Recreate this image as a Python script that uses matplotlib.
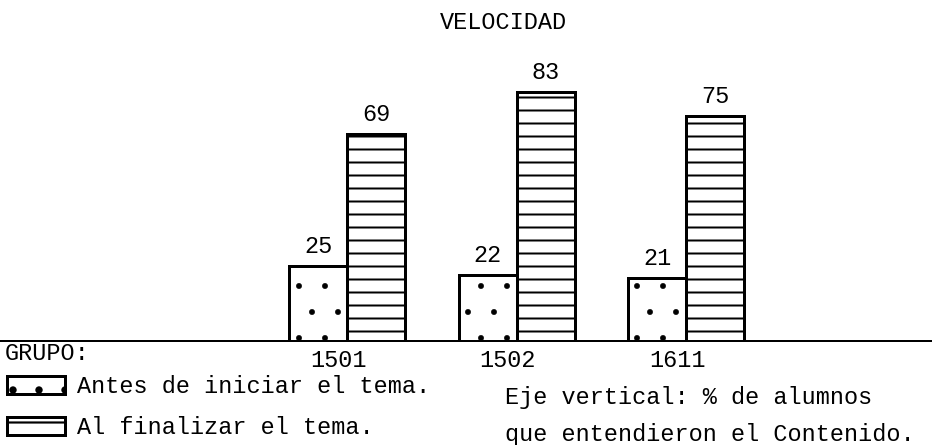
import matplotlib
matplotlib.use("Agg")
import matplotlib.pyplot as plt
import matplotlib.transforms as mtransforms
import numpy as np

# Data
grupos = ["1501", "1502", "1611"]
antes = [25, 22, 21]          # % before starting the topic
despues = [69, 83, 75]        # % after finishing the topic
etiqueta_antes = "Antes de iniciar el tema."
etiqueta_despues = "Al finalizar el tema."
titulo = "VELOCIDAD"
nota = ["Eje vertical: % de alumnos", "que entendieron el Contenido."]

W, H, DPI = 932, 445, 156
FS = 23.5 * 72 / DPI           # font size in points (~23.5 px em)
px = 72 / DPI                  # one pixel in points

plt.rcParams["font.family"] = ["Liberation Mono", "DejaVu Sans Mono"]
plt.rcParams["font.size"] = FS

fig = plt.figure(figsize=(W / DPI + 1e-4, H / DPI + 1e-4), dpi=DPI)
fig.patch.set_facecolor("white")

# Axes span the full width; baseline 341 px from the top, 3 px per percent
base_px = 341
ax = fig.add_axes([0, (H - base_px) / H, 1, 300 / H])
spacing = 169.5
x = np.arange(len(grupos))
ax.set_xlim(-347 / spacing, (W - 347) / spacing)
ax.set_ylim(0, 100)
w = 58 / spacing

edge_lw = 3 * px
with plt.rc_context({"hatch.linewidth": 0.6 * px, "hatch.color": "black"}):
    b1 = ax.bar(x - w / 2, antes, width=w, facecolor="white", edgecolor="black",
                linewidth=edge_lw, hatch=".", label=etiqueta_antes)
with plt.rc_context({"hatch.linewidth": 2.0 * px, "hatch.color": "black"}):
    b2 = ax.bar(x + w / 2, despues, width=w, facecolor="white", edgecolor="black",
                linewidth=edge_lw, hatch="--", label=etiqueta_despues)

ax.bar_label(b1, padding=8 * px, fontsize=FS)
ax.bar_label(b2, padding=8 * px, fontsize=FS)

# Baseline across the whole sheet
ax.axhline(0, color="black", linewidth=2 * px, clip_on=False)

for s in ax.spines.values():
    s.set_visible(False)
ax.set_yticks([])
ax.set_xticks(x)
ax.set_xticklabels(grupos)
ax.tick_params(axis="x", length=0, pad=8 * px)
shift = mtransforms.ScaledTranslation(-9 / DPI, 0, fig.dpi_scale_trans)
for lab in ax.get_xticklabels():
    lab.set_transform(lab.get_transform() + shift)
ax.patch.set_visible(False)

def fx(p):
    return p / W

def fy(p):
    return 1 - p / H

fig.text(fx(503), fy(22), titulo, ha="center", va="center")
fig.text(fx(5), fy(353), "GRUPO:", ha="left", va="center")

leg = fig.legend(handles=[b1, b2], loc="upper left",
                 bbox_to_anchor=(fx(7), fy(375)), bbox_transform=fig.transFigure,
                 frameon=False, borderpad=0, borderaxespad=0,
                 handlelength=58 / 23.5, handleheight=19 / 23.5,
                 handletextpad=12 / 23.5, labelspacing=0.76, fontsize=FS)

fig.text(fx(505), fy(397), nota[0], ha="left", va="center")
fig.text(fx(505), fy(434), nota[1], ha="left", va="center")

fig.savefig("out.png", dpi=DPI, facecolor="white")
